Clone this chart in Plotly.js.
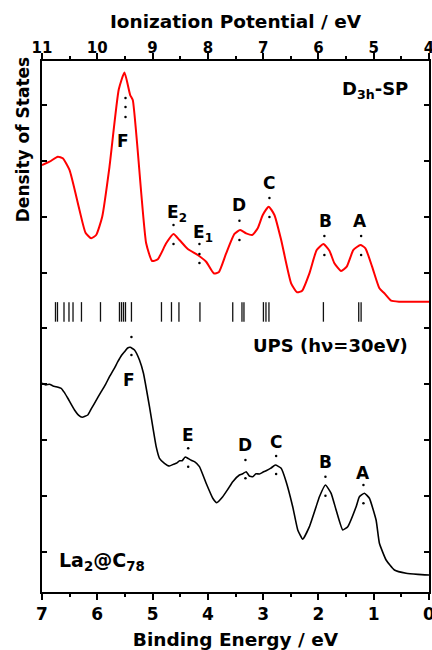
<!DOCTYPE html>
<html><head><meta charset="utf-8">
<script src="https://cdn.plot.ly/plotly-3.0.1.min.js"></script>
<style>html,body{margin:0;padding:0;background:#fff}</style>
</head><body><div id="chart" style="width:432px;height:650px"></div>
<script>
// Calculated DOS (D3h-SP), ionization potential scale (eV)
const calcIP = [11.0,10.864,10.714,10.624,10.503,10.322,10.213,10.110,10.020,9.911,9.779,9.611,9.508,9.405,9.358,9.116,9.007,8.906,8.754,8.622,8.514,8.363,8.183,8.031,7.893,7.803,7.669,7.519,7.416,7.307,7.199,7.098,7.007,6.899,6.796,6.674,6.494,6.385,6.295,6.163,6.031,5.910,5.801,5.711,5.590,5.488,5.367,5.240,5.150,5.029,4.897,4.807,4.685,4.535,4.0];
const calcDOS = [6.923,6.982,7.072,7.043,6.834,6.118,5.712,5.612,5.671,5.998,6.893,8.277,8.578,8.175,8.086,5.522,5.206,5.236,5.522,5.689,5.581,5.420,5.313,5.193,4.986,5.004,5.343,5.689,5.760,5.701,5.671,5.791,6.029,6.177,6.029,5.581,4.807,4.646,4.674,4.986,5.403,5.510,5.390,5.165,5.027,5.104,5.403,5.492,5.433,5.104,4.717,4.628,4.496,4.478,4.478];
// Calculated levels (stick spectrum), ionization potential (eV)
const stickIP = [10.756,10.720,10.602,10.512,10.439,10.286,9.942,9.599,9.562,9.526,9.490,9.382,8.839,8.658,8.523,8.143,7.550,7.383,7.347,6.995,6.949,6.895,5.910,5.271,5.228];
const stickLow = 4.12, stickHigh = 4.47;
// UPS spectrum (hv = 30 eV), binding energy (eV)
const upsBE = [7.0,6.93,6.864,6.80,6.743,6.653,6.60,6.533,6.412,6.34,6.273,6.172,6.11,6.051,5.929,5.85,5.779,5.70,5.629,5.56,5.508,5.45,5.405,5.327,5.237,5.165,5.056,4.935,4.875,4.785,4.695,4.62,4.573,4.51,4.465,4.41,4.363,4.30,4.242,4.152,4.031,3.911,3.839,3.731,3.64,3.550,3.429,3.37,3.307,3.25,3.188,3.13,3.067,3.00,2.946,2.86,2.778,2.674,2.584,2.465,2.374,2.284,2.163,2.042,1.982,1.873,1.770,1.680,1.561,1.470,1.318,1.259,1.168,1.078,0.957,0.897,0.776,0.626,0.414,0.20,0.0];
const upsInt = [3.018,2.99,3.000,2.97,2.957,2.928,2.86,2.750,2.540,2.45,2.410,2.451,2.56,2.660,2.868,3.00,3.136,3.27,3.404,3.52,3.583,3.65,3.662,3.614,3.435,3.197,2.599,1.884,1.676,1.587,1.538,1.57,1.587,1.63,1.633,1.70,1.676,1.64,1.615,1.526,1.229,0.961,0.882,0.989,1.12,1.258,1.377,1.40,1.436,1.36,1.347,1.40,1.395,1.43,1.454,1.50,1.556,1.497,1.258,0.810,0.394,0.227,0.453,0.810,0.989,1.199,1.050,0.751,0.394,0.453,0.810,0.989,1.050,0.961,0.572,0.156,-0.143,-0.322,-0.381,-0.40,-0.411];
// Peak labels – calculated
const calcLabels = ['F','E<sub>2</sub>','E<sub>1</sub>','D','C','B','A'];
const calcLabelIP = [9.544,8.56,8.09,7.441,6.899,5.873,5.241];
const calcLabelY = [7.352,6.05,5.70,6.207,6.606,5.927,5.927];
const calcDotIP = [9.49,9.49,9.49,8.622,8.622,8.152,8.152,8.152,7.429,7.429,6.886,6.886,5.892,5.892,5.228,5.228];
const calcDotY = [8.12,7.96,7.78,5.850,5.510,5.510,5.331,5.170,5.927,5.581,6.333,5.993,5.653,5.313,5.653,5.313];
// Peak labels – UPS
const upsLabels = ['F','E','D','C','B','A'];
const upsLabelBE = [5.418,4.364,3.320,2.765,1.873,1.199];
const upsLabelY = [3.077,2.093,1.914,1.973,1.615,1.408];
const upsDotBE = [5.382,5.382,4.356,4.356,3.320,3.320,2.765,2.765,1.873,1.873,1.186,1.186];
const upsDotY = [3.846,3.524,1.855,1.526,1.646,1.318,1.717,1.395,1.347,1.007,1.199,0.871];

const FONT = 'DejaVu Sans, Liberation Sans, Arial, sans-serif';
const bold = (s) => ({family: FONT, size: s, color: '#000', weight: 'bold'});

const sx = [], sy = [];
stickIP.forEach(v => { sx.push(v, v, null); sy.push(stickLow, stickHigh, null); });

const traces = [
  {x: calcIP, y: calcDOS, xaxis: 'x2', yaxis: 'y', mode: 'lines', line: {color: '#ff0000', width: 2, shape: 'spline', smoothing: 0.5}, name: 'D3h-SP', hoverinfo: 'skip'},
  {x: sx, y: sy, xaxis: 'x2', yaxis: 'y', mode: 'lines', line: {color: '#111', width: 1.3}, name: 'levels', hoverinfo: 'skip'},
  {x: upsBE, y: upsInt, xaxis: 'x', yaxis: 'y', mode: 'lines', line: {color: '#000', width: 1.6, shape: 'spline', smoothing: 0.4}, name: 'UPS', hoverinfo: 'skip'},
  {x: calcDotIP, y: calcDotY, xaxis: 'x2', yaxis: 'y', mode: 'markers', marker: {color: '#000', size: 2.5}, hoverinfo: 'skip'},
  {x: upsDotBE, y: upsDotY, xaxis: 'x', yaxis: 'y', mode: 'markers', marker: {color: '#000', size: 2.5}, hoverinfo: 'skip'}
];

const annotations = [];
calcLabels.forEach((t, i) => annotations.push({xref: 'x2', yref: 'y', x: calcLabelIP[i], y: calcLabelY[i],
  text: t, showarrow: false, xanchor: 'center', yanchor: 'middle', font: bold(17)}));
upsLabels.forEach((t, i) => annotations.push({xref: 'x', yref: 'y', x: upsLabelBE[i], y: upsLabelY[i],
  text: t, showarrow: false, xanchor: 'center', yanchor: 'middle', font: bold(17)}));
annotations.push(
  {xref: 'paper', yref: 'paper', x: 0.95, y: 0.945, xanchor: 'right', yanchor: 'middle', showarrow: false,
   text: 'D<sub>3h</sub>-SP', font: bold(18)},
  {xref: 'paper', yref: 'paper', x: 0.95, y: 0.465, xanchor: 'right', yanchor: 'middle', showarrow: false,
   text: 'UPS (hν=30eV)', font: bold(18)},
  {xref: 'paper', yref: 'paper', x: 0.04, y: 0.057, xanchor: 'left', yanchor: 'middle', showarrow: false,
   text: 'La<sub>2</sub>@C<sub>78</sub>', font: bold(19)},
  {xref: 'paper', yref: 'paper', x: -0.05, y: 0.852, xanchor: 'center', yanchor: 'middle', showarrow: false,
   textangle: -90, text: 'Density of States', font: bold(17)}
);

const layout = {
  width: 432, height: 650,
  margin: {l: 42, r: 3, t: 61, b: 58},
  paper_bgcolor: '#fff', plot_bgcolor: '#fff',
  showlegend: false,
  xaxis: {
    range: [7, 0], dtick: 1, tick0: 0, ticks: 'outside', ticklen: 6, tickwidth: 2, tickcolor: '#000',
    minor: {dtick: 0.5, ticks: 'outside', ticklen: 3, tickwidth: 2, tickcolor: '#000'},
    showline: true, linewidth: 2, linecolor: '#000', showgrid: false, zeroline: false,
    tickfont: bold(17), ticklabeloverflow: 'allow',
    title: {text: 'Binding Energy / eV', font: bold(18.5), standoff: 12}
  },
  xaxis2: {
    range: [11, 4], dtick: 1, tick0: 0, overlaying: 'x', side: 'top', anchor: 'y',
    ticks: 'outside', ticklen: 6, tickwidth: 2, tickcolor: '#000',
    minor: {dtick: 0.5, ticks: 'outside', ticklen: 3, tickwidth: 2, tickcolor: '#000'},
    showline: true, linewidth: 2, linecolor: '#000', showgrid: false, zeroline: false,
    tickfont: bold(15), ticklabeloverflow: 'allow', ticklabelstandoff: -6,
    title: {text: 'Ionization Potential / eV', font: bold(18.5), standoff: 6}
  },
  yaxis: {
    range: [-0.716, 8.784], dtick: 1, tick0: 0, ticks: 'inside', ticklen: 5, tickwidth: 2, tickcolor: '#000',
    showticklabels: false, mirror: 'ticks',
    showline: true, linewidth: 2, linecolor: '#000', showgrid: false, zeroline: false
  },
  annotations: annotations
};

Plotly.newPlot('chart', traces, layout, {displayModeBar: false, staticPlot: true});
</script></body></html>
